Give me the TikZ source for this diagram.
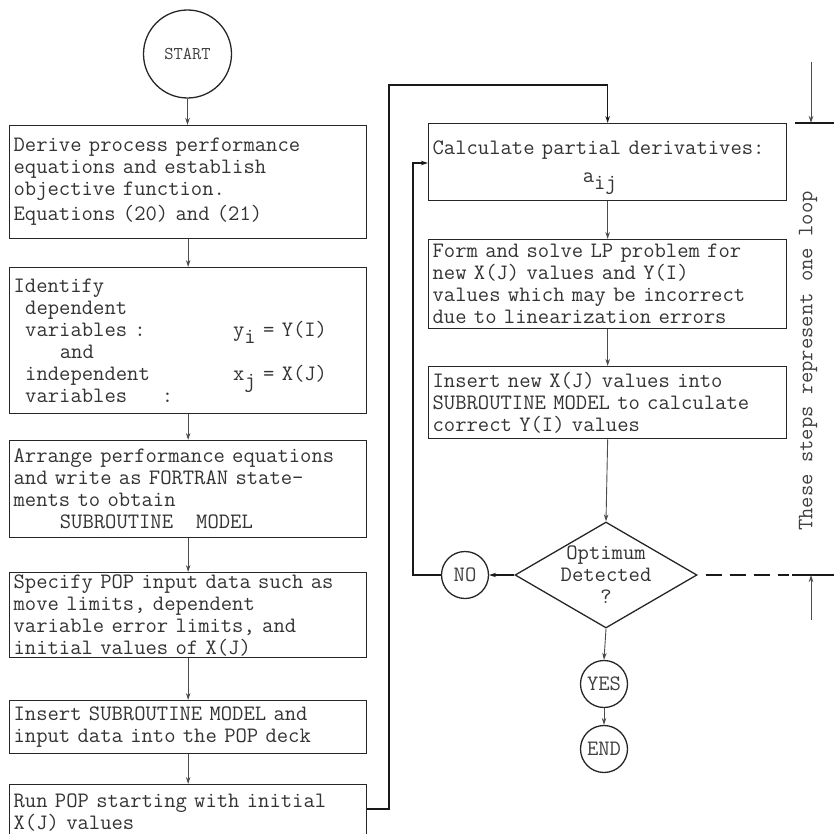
\documentclass[tikz,border=0pt]{standalone}
\usepackage{fontspec}
\newcommand\boxfont{\ttfamily\fontsize{22}{22}\selectfont}
\newcommand\lowsub[1]{\smash{\raisebox{-7pt}{#1}}}
\usetikzlibrary{shapes.geometric,arrows.meta}
\begin{document}
\begin{tikzpicture}[x=1pt,y=-1pt,
  box/.style={draw=black!85, line width=1.3pt, anchor=north west, inner xsep=4pt, inner ysep=0pt, align=left, text=black!80, font=\boxfont},
  lbox/.style={box, text width=349pt},
  rbox/.style={box, text width=350pt},
  term/.style={circle, draw=black!85, line width=1.3pt, inner sep=0pt, minimum size=47pt, text=black!75, font=\boxfont},
  conn/.style={draw=black!70, line width=0.9pt},
  loopl/.style={draw=black!90, line width=1.3pt},
  arr/.style={-{Stealth[length=7pt,width=4.5pt]}}
]
\useasboundingbox (0,0) rectangle (834,834);

% left column
\node[term, minimum size=88pt, font=\ttfamily\fontsize{18}{20}\selectfont] (start) at (187.5,54) {START};

\node[lbox, minimum height=113pt] (b1) at (9,125)
 {Derive process performance\\equations and establish\\objective function.\\[3pt]Equations (20) and (21)};

\node[lbox, minimum height=146pt] (b2) at (9,267)
 {Identify\\
  \hspace*{0.525em}dependent\\
  \makebox[9.975em][l]{\hspace*{0.525em}variables :}y\lowsub{i} = Y(I)\\
  \hspace*{2.1em}and\\
  \makebox[9.975em][l]{\hspace*{0.525em}independent}x\lowsub{j} = X(J)\\
  \hspace*{0.525em}variables\hspace*{1.575em}:};

\node[lbox, minimum height=97pt] (b3) at (9,440)
 {Arrange performance equations\\and write as FORTRAN state-\\ments to obtain\\\hspace*{2.1em}SUBROUTINE\hspace*{1.05em}MODEL};

\node[lbox, minimum height=85pt] (b4) at (9,572)
 {Specify POP input data such as\\move limits, dependent\\variable error limits, and\\initial values of X(J)};

\node[lbox, minimum height=53pt] (b5) at (9,700)
 {Insert SUBROUTINE MODEL and\\input data into the POP deck};

\node[lbox, minimum height=55pt] (b6) at (9,784)
 {Run POP starting with initial\\X(J) values};

\draw[conn,arr] (start.south) -- (start.south |- b1.north);
\draw[conn,arr] (b1.south) -- (b2.north);
\draw[conn,arr] (b2.south) -- (b3.north);
\draw[conn,arr] (b3.south) -- (b4.north);
\draw[conn,arr] (b4.south) -- (b5.north);
\draw[conn,arr] (b5.south) -- (b6.north);

% right column
\node[rbox, minimum height=77pt] (b7) at (428,123)
 {Calculate partial derivatives:\\[6pt]\hspace*{6.825em}a\lowsub{ij}};

\node[rbox, minimum height=89pt] (b8) at (428,239)
 {Form and solve LP problem for\\new X(J) values and Y(I)\\values which may be incorrect\\due to linearization errors};

\node[rbox, minimum height=72pt] (b9) at (428,366)
 {Insert new X(J) values into\\SUBROUTINE MODEL to calculate\\correct Y(I) values};

\node[diamond, draw=black!85, line width=1.3pt, minimum width=182pt, minimum height=106pt, inner sep=0pt] (dec) at (606,575) {};
\node[align=center, font=\boxfont, text=black!80, inner sep=0pt] (dectext) at (dec) {Optimum\\Detected\\?};

\node[term] (no) at (465,575) {NO};
\node[term] (yes) at (604,684) {YES};
\node[term] (fin) at (604,749) {END};

\draw[conn,arr] (b7.south) -- (b8.north);
\draw[conn,arr] (b8.south) -- (b9.north);
\draw[conn,arr] (b9.south) -- (dec.north);
\draw[conn,arr] (dec.south) -- (yes.north);
\draw[conn,arr] (yes.south) -- (fin.north);
\draw[loopl,arr] (dec.west) -- (no.east);

% loop connectors
\coordinate (c1) at (389,809);
\coordinate (c2) at (389,85);
\draw[loopl,arr] (b6.east |- c1) -- (c1) -- (c2) -- (c2 -| b7.north) -- (b7.north);

\coordinate (c3) at (413,575);
\coordinate (c4) at (413,163);
\draw[loopl,arr] (no.west) -- (c3) -- (c4) -- (c4 -| b7.west);

% loop marker on the right
\coordinate (c5) at (789,575);
\coordinate (c6) at (792,575);
\coordinate (c7) at (834,575);
\draw[black!90, line width=1.8pt, dash pattern=on 16pt off 8pt, dash phase=16pt] (dec.east) -- (c5);
\draw[loopl] (c6) -- (c7);

\coordinate (m1) at (795,123);
\coordinate (m2) at (834,123);
\coordinate (m3) at (811,62);
\coordinate (m4) at (811,620);
\draw[loopl] (m1) -- (m2);
\draw[conn,arr] (m3) -- (m3 |- m1);
\draw[conn,arr] (m4) -- (m4 |- c7);

\node[rotate=90, font=\boxfont, text=black!75, inner sep=0pt] (note) at (808,361) {These steps represent one loop};
\end{tikzpicture}
\end{document}
